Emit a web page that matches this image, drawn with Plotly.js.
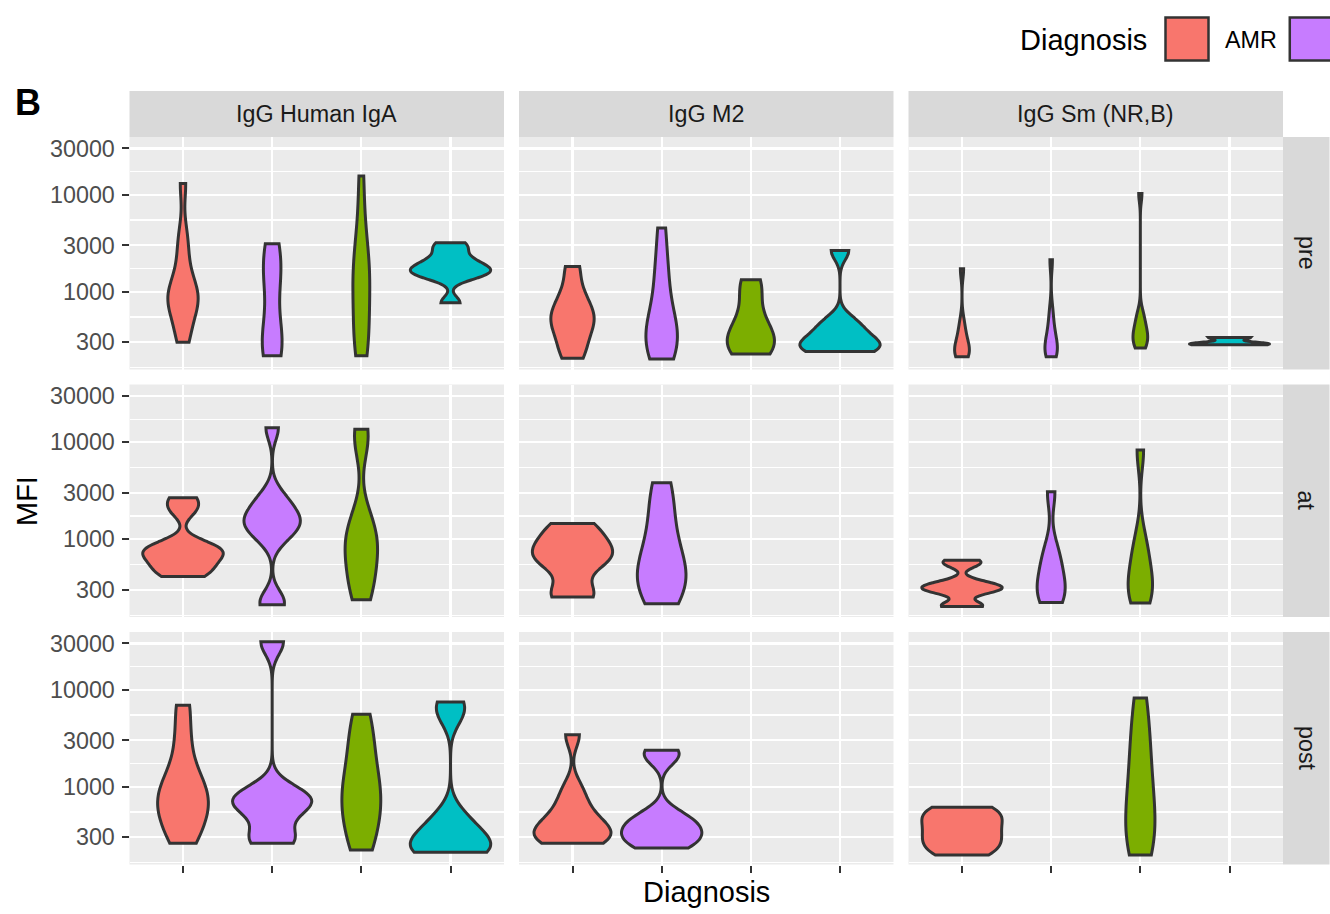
<!DOCTYPE html>
<html>
<head>
<meta charset="utf-8">
<script src="https://cdn.plot.ly/plotly-3.0.1.min.js"></script>
<style>html,body{margin:0;padding:0;background:#fff;}</style>
</head>
<body>
<div id="chart" style="width:1330px;height:914px"></div>
<script>
// ---- facets and groups ----
const markers = ['IgG Human IgA', 'IgG M2', 'IgG Sm (NR,B)'];
const timepoints = ['pre', 'at', 'post'];
const diagnoses = ['AMR', 'TCMR', 'Mixed', 'No rejection'];
const diagnosisColors = ['#F8766D', '#C77CFF', '#7CAE00', '#00BFC4'];
const mfiTicks = [300, 1000, 3000, 10000, 30000];

// ---- MFI samples: timepoint / marker / diagnosis ----
const pre_HumanIgA_AMR   = [300, 398, 562, 708, 794, 891, 1000, 1122, 1585, 2512, 3981, 13030];
const pre_HumanIgA_TCMR  = [218, 251, 316, 398, 1122, 1585, 2239, 3126];
const pre_HumanIgA_Mixed = [218, 282, 398, 631, 1000, 1413, 1778, 2512, 5012, 15630];
const pre_HumanIgA_NR    = [767, 1413, 1514, 1622, 1738, 1905, 2138, 2692, 3199];

const pre_M2_AMR   = [206, 282, 398, 501, 562, 708, 1000, 1820];
const pre_M2_TCMR  = [202, 224, 282, 355, 398, 501, 708, 1259, 1995, 4529];
const pre_M2_Mixed = [228, 251, 288, 339, 417, 562, 1000, 1324];
const pre_M2_NR    = [242, 251, 269, 295, 339, 417, 501, 2661];

const pre_Sm_AMR   = [213, 221, 240, 263, 302, 363, 479, 1722];
const pre_Sm_TCMR  = [213, 224, 245, 269, 302, 355, 447, 631, 2133];
const pre_Sm_Mixed = [262, 282, 316, 347, 380, 427, 501, 603, 10280];
const pre_Sm_NR    = [284, 292, 337];

const at_HumanIgA_AMR   = [413, 479, 562, 661, 741, 794, 891, 1995, 2667];
const at_HumanIgA_TCMR  = [210, 229, 1000, 1259, 1413, 1585, 1778, 2239, 2818, 14125];
const at_HumanIgA_Mixed = [237, 316, 447, 631, 794, 1000, 1259, 1778, 10000, 13583];
const at_HumanIgA_NR    = [];

const at_M2_AMR   = [253, 282, 562, 631, 708, 891, 1122, 1449];
const at_M2_TCMR  = [215, 282, 355, 447, 562, 794, 1259, 2239, 3811];
const at_M2_Mixed = [];
const at_M2_NR    = [];

const at_Sm_AMR   = [202, 209, 282, 302, 316, 331, 363, 550, 604];
const at_Sm_TCMR  = [222, 251, 316, 398, 562, 794, 3076];
const at_Sm_Mixed = [219, 263, 331, 447, 631, 1000, 8299];
const at_Sm_NR    = [];

const post_HumanIgA_AMR   = [261, 355, 479, 603, 724, 871, 1122, 1585, 3162, 6918];
const post_HumanIgA_TCMR  = [261, 316, 562, 676, 759, 891, 31260];
const post_HumanIgA_Mixed = [222, 316, 447, 631, 794, 1000, 1413, 2239, 3548, 5585];
const post_HumanIgA_NR    = [210, 214, 224, 251, 302, 380, 501, 5623, 7482];

const post_M2_AMR   = [261, 275, 302, 331, 363, 417, 501, 661, 955, 3436];
const post_M2_TCMR  = [233, 263, 302, 339, 389, 447, 525, 1995, 2371];
const post_M2_Mixed = [];
const post_M2_NR    = [];

const post_Sm_AMR   = [197, 224, 263, 302, 355, 417, 490, 562, 614];
const post_Sm_TCMR  = [];
const post_Sm_Mixed = [197, 251, 355, 501, 794, 1259, 2239, 3981, 8222];
const post_Sm_NR    = [];

// lookup table [timepoint][marker][diagnosis]
const samples = [
  [[pre_HumanIgA_AMR, pre_HumanIgA_TCMR, pre_HumanIgA_Mixed, pre_HumanIgA_NR],
   [pre_M2_AMR, pre_M2_TCMR, pre_M2_Mixed, pre_M2_NR],
   [pre_Sm_AMR, pre_Sm_TCMR, pre_Sm_Mixed, pre_Sm_NR]],
  [[at_HumanIgA_AMR, at_HumanIgA_TCMR, at_HumanIgA_Mixed, at_HumanIgA_NR],
   [at_M2_AMR, at_M2_TCMR, at_M2_Mixed, at_M2_NR],
   [at_Sm_AMR, at_Sm_TCMR, at_Sm_Mixed, at_Sm_NR]],
  [[post_HumanIgA_AMR, post_HumanIgA_TCMR, post_HumanIgA_Mixed, post_HumanIgA_NR],
   [post_M2_AMR, post_M2_TCMR, post_M2_Mixed, post_M2_NR],
   [post_Sm_AMR, post_Sm_TCMR, post_Sm_Mixed, post_Sm_NR]]
];

// ---- page geometry (pixels) ----
const W = 1330, H = 914;
const px = x => x / W;
const py = y => 1 - y / H;
const colEdges = [[129.5, 504], [519, 893.5], [908.5, 1283]];
const rowEdges = [[137, 369.5], [384.5, 617], [632, 864.5]];
const stripTop = [91, 137];
const stripRight = [1283, 1329.5];
const yRange = [2.197, 4.595];
const FONT = 'Liberation Sans, Arial, Helvetica, sans-serif';

// ---- density helpers (log10 scale, Silverman bw.nrd0) ----
function q7(sorted, p) {
  const h = (sorted.length - 1) * p, lo = Math.floor(h);
  const hi = Math.min(lo + 1, sorted.length - 1);
  return sorted[lo] + (h - lo) * (sorted[hi] - sorted[lo]);
}
function bwNrd0(v) {
  const n = v.length, s = [...v].sort((a, b) => a - b);
  const mean = v.reduce((a, b) => a + b, 0) / n;
  const sd = Math.sqrt(v.reduce((a, b) => a + (b - mean) ** 2, 0) / (n - 1));
  let lo = Math.min(sd, (q7(s, 0.75) - q7(s, 0.25)) / 1.34);
  if (!lo) lo = sd || Math.abs(v[0]) || 1;
  return 0.9 * lo * Math.pow(n, -0.2);
}
function peakDensity(v, bw) {
  const mn = Math.min(...v), mx = Math.max(...v), dist = mx - mn;
  const n = Math.ceil(dist / (bw / 3)), step = dist / n;
  const norm = 1 / (v.length * bw * Math.sqrt(2 * Math.PI));
  let best = 0;
  for (let t = mn; t < mx + step / 2; t += step) {
    let s = 0;
    for (const x of v) s += Math.exp(-0.5 * ((t - x) / bw) ** 2);
    best = Math.max(best, s * norm);
  }
  return best;
}

const majorVals = mfiTicks.map(Math.log10);
const minorVals = [majorVals[0] - (majorVals[1] - majorVals[0]) / 2];
for (let i = 0; i < majorVals.length - 1; i++) minorVals.push((majorVals[i] + majorVals[i + 1]) / 2);

const traces = [];
const layout = {
  width: W, height: H,
  margin: {l: 0, r: 0, t: 0, b: 0},
  paper_bgcolor: '#FFFFFF',
  plot_bgcolor: '#EBEBEB',
  showlegend: false,
  shapes: [], annotations: [],
  font: {family: FONT, color: '#000000'}
};

timepoints.forEach((tp, r) => {
  markers.forEach((mk, c) => {
    const k = r * 3 + c + 1;
    const sfx = k === 1 ? '' : String(k);
    layout['xaxis' + sfx] = {
      domain: [px(colEdges[c][0]), px(colEdges[c][1])],
      anchor: 'y' + sfx, range: [-0.6, 3.6], fixedrange: true,
      tickmode: 'array', tickvals: [0, 1, 2, 3], ticktext: ['', '', '', ''],
      showticklabels: false,
      ticks: r === 2 ? 'outside' : '', ticklen: 7, tickwidth: 2, tickcolor: '#333333',
      showgrid: true, gridcolor: '#FFFFFF', gridwidth: 2.2,
      zeroline: false, showline: false
    };
    layout['yaxis' + sfx] = {
      domain: [py(rowEdges[r][1]), py(rowEdges[r][0])],
      anchor: 'x' + sfx, range: yRange, fixedrange: true,
      tickmode: 'array', tickvals: majorVals, ticktext: mfiTicks.map(String),
      showticklabels: c === 0,
      tickfont: {family: FONT, size: 23.3, color: '#4D4D4D'},
      ticks: c === 0 ? 'outside' : '', ticklen: 7, tickwidth: 2, tickcolor: '#333333',
      ticklabelstandoff: 2,
      showgrid: true, gridcolor: '#FFFFFF', gridwidth: 2.2,
      minor: {tickmode: 'array', tickvals: minorVals, showgrid: true, gridcolor: '#FFFFFF', gridwidth: 1.1, ticks: ''},
      zeroline: false, showline: false
    };

    // violins in this panel: width scaled by peak density (equal-area scaling)
    const groups = [];
    diagnoses.forEach((dg, di) => {
      const vals = samples[r][c][di];
      if (!vals.length) return;
      const logs = vals.map(Math.log10);
      const bw = bwNrd0(logs);
      groups.push({di, logs, bw, peak: peakDensity(logs, bw)});
    });
    const panelMax = Math.max(...groups.map(g => g.peak));
    groups.forEach(g => {
      traces.push({
        type: 'violin', name: diagnoses[g.di],
        x0: g.di, y: g.logs,
        xaxis: 'x' + sfx, yaxis: 'y' + sfx,
        bandwidth: g.bw, spanmode: 'hard', scalemode: 'width',
        width: 0.9 * g.peak / panelMax,
        points: false, box: {visible: false}, meanline: {visible: false},
        fillcolor: diagnosisColors[g.di], opacity: 1,
        line: {color: '#333333', width: 3},
        hoveron: 'violins', showlegend: false
      });
    });

    // strips
    if (r === 0) {
      layout.shapes.push({type: 'rect', xref: 'paper', yref: 'paper', layer: 'below',
        x0: px(colEdges[c][0]), x1: px(colEdges[c][1]), y0: py(stripTop[1]), y1: py(stripTop[0]),
        fillcolor: '#D9D9D9', line: {width: 0}});
      layout.annotations.push({xref: 'paper', yref: 'paper', showarrow: false,
        x: px((colEdges[c][0] + colEdges[c][1]) / 2), y: py((stripTop[0] + stripTop[1]) / 2),
        xanchor: 'center', yanchor: 'middle', text: mk,
        font: {family: FONT, size: 23.3, color: '#1A1A1A'}});
    }
    if (c === 2) {
      layout.shapes.push({type: 'rect', xref: 'paper', yref: 'paper', layer: 'below',
        x0: px(stripRight[0]), x1: px(stripRight[1]), y0: py(rowEdges[r][1]), y1: py(rowEdges[r][0]),
        fillcolor: '#D9D9D9', line: {width: 0}});
      layout.annotations.push({xref: 'paper', yref: 'paper', showarrow: false,
        x: px((stripRight[0] + stripRight[1]) / 2), y: py((rowEdges[r][0] + rowEdges[r][1]) / 2),
        xanchor: 'center', yanchor: 'middle', text: tp, textangle: 90,
        font: {family: FONT, size: 23.3, color: '#1A1A1A'}});
    }
  });
});

// axis titles and tag
layout.annotations.push({xref: 'paper', yref: 'paper', showarrow: false,
  x: px((colEdges[0][0] + colEdges[2][1]) / 2), y: py(892), xanchor: 'center', yanchor: 'middle',
  text: 'Diagnosis', font: {family: FONT, size: 29, color: '#000000'}});
layout.annotations.push({xref: 'paper', yref: 'paper', showarrow: false,
  x: px(27), y: py(501), xanchor: 'center', yanchor: 'middle', textangle: -90,
  text: 'MFI', font: {family: FONT, size: 29, color: '#000000'}});
layout.annotations.push({xref: 'paper', yref: 'paper', showarrow: false,
  x: px(13), y: py(103), xanchor: 'left', yanchor: 'middle',
  text: '<b>B</b>', font: {family: FONT, size: 36, color: '#000000'}});

// legend: a horizontal row that runs past the right edge of the page
const measure = document.createElement('canvas').getContext('2d');
measure.font = '23.3px "Liberation Sans"';
layout.annotations.push({xref: 'paper', yref: 'paper', showarrow: false,
  x: px(1018), y: py(40), xanchor: 'left', yanchor: 'middle',
  text: 'Diagnosis', font: {family: FONT, size: 29, color: '#000000'}});
let kx = 1165.5;
diagnoses.forEach((dg, i) => {
  if (kx >= W) return;
  layout.shapes.push({type: 'rect', xref: 'paper', yref: 'paper',
    x0: px(kx), x1: px(kx + 43), y0: py(60.5), y1: py(17.5),
    fillcolor: diagnosisColors[i], line: {color: '#333333', width: 2.5}});
  const lx = kx + 59.5;
  const lw = measure.measureText(dg).width;
  if (lx + lw <= W) {
    layout.annotations.push({xref: 'paper', yref: 'paper', showarrow: false,
      x: px(lx - 2), y: py(39.5), xanchor: 'left', yanchor: 'middle',
      text: dg, font: {family: FONT, size: 23.3, color: '#000000'}});
  }
  kx = lx + lw + 13;
});

Plotly.newPlot('chart', traces, layout, {staticPlot: true, displayModeBar: false});
</script>
</body>
</html>
